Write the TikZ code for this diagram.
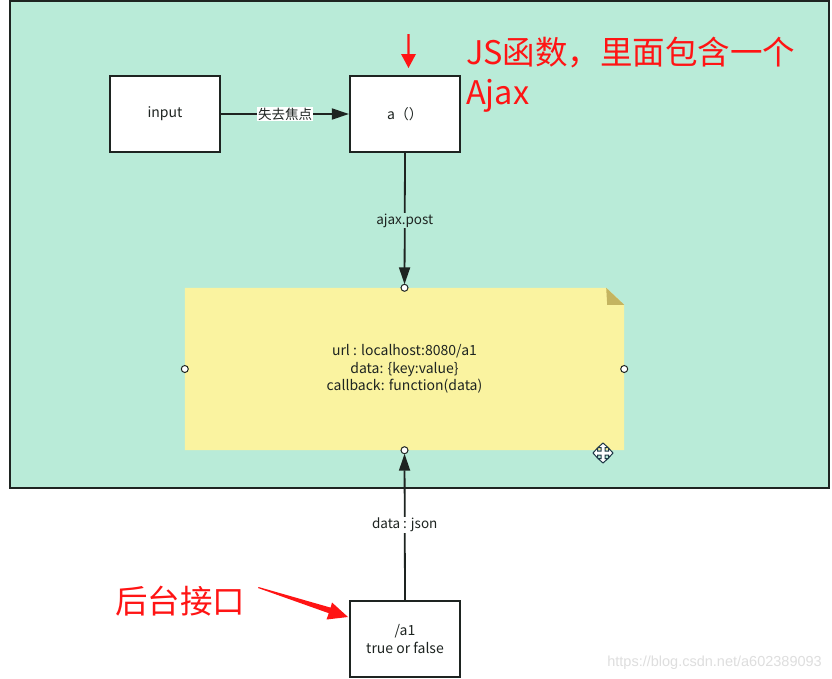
\documentclass[tikz,border=0pt]{standalone}
\usepackage{fontspec}
\setmainfont{Noto Sans CJK SC}
\newfontfamily\wmfont{Liberation Sans}
\usetikzlibrary{arrows.meta}
\definecolor{bggreen}{RGB}{185,235,216}
\definecolor{noteyellow}{RGB}{250,243,160}
\definecolor{foldcol}{RGB}{196,180,96}
\definecolor{darkline}{RGB}{30,36,33}
\definecolor{redtxt}{RGB}{255,20,20}
\definecolor{cursorcol}{RGB}{30,55,70}
\definecolor{wmcol}{RGB}{222,222,222}
\tikzset{
  boxnode/.style={draw=darkline,line width=2.2pt,fill=white,minimum width=110pt,minimum height=76pt,inner sep=0pt,align=center,font=\fontsize{14}{18}\selectfont,text=darkline},
  conn/.style={draw=darkline,line width=1.8pt,-{Triangle[length=17pt,width=11pt]}},
  lbl/.style={font=\fontsize{13.5}{15}\selectfont,text=darkline,inner sep=1pt},
  handle/.style={circle,draw=darkline,fill=white,line width=1pt,minimum size=7pt,inner sep=0pt},
  redlabel/.style={text=redtxt,font=\fontsize{32.5}{38}\selectfont,inner sep=0pt}
}
\begin{document}
\begin{tikzpicture}[x=1pt,y=-1pt]
\useasboundingbox (0,0) rectangle (832,678);
\fill[white] (0,0) rectangle (832,678);
% green frame
\draw[fill=bggreen,draw=darkline,line width=2pt] (10,1) rectangle (829,488);
% boxes
\node[boxnode] (input) at (165,114) {input};
\node[boxnode] (a) at (405,114) {a（）};
\node[boxnode] (bk) at (405,639) {/a1\\true or false};
% note
\node[minimum width=439pt,minimum height=162pt,inner sep=0pt] (note) at (404.5,369) {};
\fill[noteyellow] (note.south west) -- (note.north west) -- ([xshift=-18pt]note.north east) -- ([yshift=-17pt]note.north east) -- (note.south east) -- cycle;
\fill[foldcol] ([xshift=-18pt]note.north east) -- ([xshift=-17pt,yshift=-17pt]note.north east) -- ([yshift=-17pt]note.north east) -- cycle;
\node[align=center,font=\fontsize{14}{17.5}\selectfont,text=darkline] (notetext) at (note.center) {url : localhost:8080/a1\\data: \{key:value\}\\callback: function(data)};
% connectors
\draw[conn] (input) -- node[lbl,fill=white] (lostfocus) {失去焦点} (a);
\draw[conn,shorten >=3.5pt] (a.south) -- node[lbl,fill=bggreen] (ajaxpost) {ajax.post} (note.north);
\draw[conn,shorten >=3.5pt] (bk.north) -- node[lbl,fill=white] (datajson) {data : json} (note.south);
% handles
\node[handle] (hn) at (note.north) {};
\node[handle] (hs) at (note.south) {};
\node[handle] (hw) at (note.west) {};
\node[handle] (he) at (note.east) {};
% cursor icon
\begin{scope}[shift={(603,453)}]
\draw[fill=white,draw=cursorcol,line width=1pt,line join=miter]
 (0,-10) -- (5,-5.5) -- (2,-5.5) -- (2,-2) -- (5.5,-2) -- (5.5,-5) -- (10,0) -- (5.5,5) -- (5.5,2) -- (2,2) -- (2,5.5) -- (5,5.5) -- (0,10) -- (-5,5.5) -- (-2,5.5) -- (-2,2) -- (-5.5,2) -- (-5.5,5) -- (-10,0) -- (-5.5,-5) -- (-5.5,-2) -- (-2,-2) -- (-2,-5.5) -- (-5,-5.5) -- cycle;
\end{scope}
% red annotations
\node[redlabel,anchor=base west] (jsline1) at (466,64) {JS函数，里面包含一个};
\node[redlabel,anchor=base west] (jsline2) at (466,104) {Ajax};
\coordinate (rtop) at (408.5,34);
\coordinate (rtip) at (408.5,68);
\fill[redtxt] (rtop) ++(-1.2,0) -- ++(2.4,0) -- (409.7,54) -- (416,54) -- (rtip) -- (401,54) -- (407.3,54) -- cycle;
\node[redlabel,anchor=base west] (backend) at (115,613) {后台接口};
\coordinate (btail) at (258,588);
\coordinate (btip) at (348,617);
\fill[redtxt] (btail) -- (258.6,587) -- (330.6,607.6) -- (332,602.5) -- (btip) -- (326.5,619.5) -- (328.8,613.2) -- cycle;
% watermark
\node[anchor=base east,text=wmcol,font=\wmfont\fontsize{14.5}{16}\selectfont,inner sep=0pt] (wm) at (822,666) {https://blog.csdn.net/a602389093};
\end{tikzpicture}
\end{document}
